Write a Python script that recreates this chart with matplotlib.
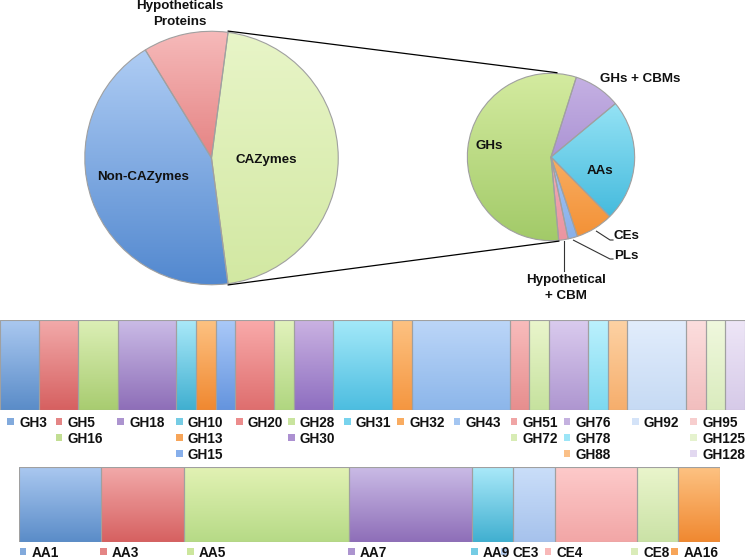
import numpy as np
import matplotlib
matplotlib.use('Agg')
import matplotlib.pyplot as plt
from matplotlib.colors import LinearSegmentedColormap, to_rgb

plt.rcParams['font.family'] = ['Liberation Sans', 'DejaVu Sans']
plt.rcParams['font.weight'] = 'bold'

# ---- data ----
main_labels = ['CAZymes', 'Hypotheticals\nProteins', 'Non-CAZymes']
main_counts = [55, 13, 52]
main_top = ['#e8f5c8', '#f6baba', '#b6d2f7']
main_bot = ['#d2e8a2', '#d44c4c', '#5288cf']

caz_labels = ['GHs + CBMs', 'AAs', 'CEs', 'PLs', 'Hypothetical\n+ CBM', 'GHs']
caz_counts = [5, 13, 4, 1, 1, 31]
caz_top = ['#c6b2e4', '#aaedfb', '#fdca90', '#bcd6f8', '#f9c4cc', '#d4eba0']
caz_bot = ['#9276c4', '#34b2d8', '#f39034', '#88b0ea', '#ea94a0', '#a2ca68']

gh_names = ['GH3', 'GH5', 'GH16', 'GH18', 'GH10', 'GH13', 'GH15', 'GH20', 'GH28', 'GH30',
            'GH31', 'GH32', 'GH43', 'GH51', 'GH72', 'GH76', 'GH78', 'GH88', 'GH92', 'GH95',
            'GH125', 'GH128']
gh_counts = [2, 2, 2, 3, 1, 1, 1, 2, 1, 2, 3, 1, 5, 1, 1, 2, 1, 1, 3, 1, 1, 1]
gh_top = ['#aac8f0', '#f2aaaa', '#dcefb6', '#cabbe6', '#aae9f9', '#fdc282', '#aac9f8', '#f9aaaa',
          '#e2f2bc', '#cab2e2', '#a4e9f9', '#fdc282', '#bcd6f8', '#f9bcbc', '#eaf5cc', '#dacbee',
          '#bcf1fd', '#fdd2a4', '#e2edfc', '#fcdede', '#f0f8de', '#eee6f7']
gh_bot = ['#5a8cc8', '#d66060', '#a8cc70', '#8e6eb8', '#40afd0', '#f08830', '#6494de', '#de6e6e',
          '#b0d680', '#8e6ec0', '#4cbde0', '#f59640', '#8cb6ea', '#e68e8e', '#c6e29e', '#ae96d0',
          '#7cd9f0', '#f6ae6c', '#c6daf4', '#f2bebe', '#daecbe', '#d6cae8']

aa_names = ['AA1', 'AA3', 'AA5', 'AA7', 'AA9', 'CE3', 'CE4', 'CE8', 'AA16']
aa_counts = [2, 2, 4, 3, 1, 1, 2, 1, 1]
aa_top = ['#aac8f0', '#f2aaaa', '#e2f2b4', '#cabbe6', '#aae9f9', '#cadef9', '#fdcaca', '#eaf5cc', '#fdc282']
aa_bot = ['#5a8cc8', '#d66060', '#b6da86', '#8e6eb8', '#40afd0', '#a6c2ec', '#f2a6a6', '#cae2a6', '#f08830']

# ---- layout (pixels) ----
W, H = 747, 560
fig = plt.figure(figsize=(W / 100, H / 100), dpi=100)


def px_axes(x0, y0, x1, y1, z=1):
    return fig.add_axes([x0 / W, 1 - y1 / H, (x1 - x0) / W, (y1 - y0) / H], zorder=z)


def grad(ax, patch, ctop, cbot, extent):
    cmap = LinearSegmentedColormap.from_list('g', [to_rgb(cbot), to_rgb(ctop)])
    g = np.linspace(0, 1, 256).reshape(-1, 1)
    im = ax.imshow(g, cmap=cmap, extent=extent, origin='lower', aspect='auto',
                   zorder=patch.get_zorder() - 0.5, interpolation='bicubic')
    im.set_clip_path(patch)
    patch.set_facecolor('none')


def mix(a, b):
    return tuple((np.array(to_rgb(a)) + np.array(to_rgb(b))) / 2)


edge = '#a0a0a0'
txt = '#111111'

# big pie
bc, br = (211.5, 158), 128
ax1 = px_axes(bc[0] - br, bc[1] - br, bc[0] + br, bc[1] + br)
start1 = -180 * main_counts[0] / sum(main_counts)
w1, _ = ax1.pie(main_counts, radius=1, startangle=start1, frame=True,
                wedgeprops=dict(edgecolor=edge, linewidth=0.8))
for w, ct, cb in zip(w1, main_top, main_bot):
    grad(ax1, w, ct, cb, (-1, 1, -1, 1))
ax1.set_xlim(-1.01, 1.01)
ax1.set_ylim(-1.01, 1.01)
ax1.axis('off')

# small pie
sc, sr = (551, 157), 84.5
ax2 = px_axes(sc[0] - sr, sc[1] - sr, sc[0] + sr, sc[1] + sr)
w2, _ = ax2.pie(caz_counts, radius=1, startangle=72.4, counterclock=False, frame=True,
                wedgeprops=dict(edgecolor=edge, linewidth=0.8))
for w, ct, cb in zip(w2, caz_top, caz_bot):
    grad(ax2, w, ct, cb, (-1, 1, -1, 1))
ax2.set_xlim(-1.01, 1.01)
ax2.set_ylim(-1.01, 1.01)
ax2.axis('off')

# GH bar
ax3 = px_axes(0, 320, 745, 410)
lefts = np.concatenate([[0], np.cumsum(gh_counts)[:-1]])
bars = ax3.barh(0, gh_counts, left=lefts, height=1, edgecolor=edge, linewidth=0.8)
for b, ct, cb in zip(bars, gh_top, gh_bot):
    x, y = b.get_x(), b.get_y()
    grad(ax3, b, ct, cb, (x, x + b.get_width(), y, y + b.get_height()))
ax3.set_xlim(0, sum(gh_counts))
ax3.set_ylim(-0.5, 0.5)
ax3.axis('off')

# AA / CE bar
ax4 = px_axes(19, 467, 719.5, 542)
lefts = np.concatenate([[0], np.cumsum(aa_counts)[:-1]])
bars = ax4.barh(0, aa_counts, left=lefts, height=1, edgecolor=edge, linewidth=0.8)
for b, ct, cb in zip(bars, aa_top, aa_bot):
    x, y = b.get_x(), b.get_y()
    grad(ax4, b, ct, cb, (x, x + b.get_width(), y, y + b.get_height()))
ax4.set_xlim(0, sum(aa_counts))
ax4.set_ylim(-0.5, 0.5)
ax4.axis('off')

# overlay in pixel coordinates
ov = fig.add_axes([0, 0, 1, 1], zorder=10)
ov.set_xlim(0, W)
ov.set_ylim(H, 0)
ov.axis('off')
ov.patch.set_alpha(0)


def on_pie(c, r, ang):
    a = np.radians(ang)
    return c[0] + r * np.cos(a), c[1] - r * np.sin(a)


# connector lines from the CAZymes slice to the second pie
p1 = on_pie(bc, br, w1[0].theta2)
p2 = on_pie(sc, sr, 86)
p3 = on_pie(bc, br, w1[0].theta1)
p4 = on_pie(sc, sr, w2[-1].theta2)
ov.plot([p1[0], p2[0]], [p1[1], p2[1]], color='black', lw=0.9)
ov.plot([p3[0], p4[0]], [p3[1], p4[1]], color='black', lw=0.9)

# pie labels
ov.text(180, 14, main_labels[1], ha='center', va='center', fontsize=9.6, color=txt, linespacing=1.35)
ov.text(266, 160, main_labels[0], ha='center', va='center', fontsize=9.6, color=txt)
ov.text(143, 177, main_labels[2], ha='center', va='center', fontsize=9.6, color=txt)
ov.text(489, 146, caz_labels[5], ha='center', va='center', fontsize=9.6, color=txt)
ov.text(600, 171, caz_labels[1], ha='center', va='center', fontsize=9.6, color=txt)
ov.text(640, 79, caz_labels[0], ha='center', va='center', fontsize=9.6, color=txt)
ov.text(614, 236, caz_labels[2], ha='left', va='center', fontsize=9.6, color=txt)
ov.text(614, 256, caz_labels[3], ha='left', va='center', fontsize=9.6, color=txt)
ov.text(566, 288, caz_labels[4], ha='center', va='center', fontsize=9.6, color=txt, linespacing=1.35)

# leader lines
m = on_pie(sc, sr * 1.03, (w2[2].theta1 + w2[2].theta2) / 2)
ov.plot([m[0], 610, 613], [m[1], 240, 240], color='#333333', lw=0.8)
m = on_pie(sc, sr * 1.02, (w2[3].theta1 + w2[3].theta2) / 2)
ov.plot([m[0], 610, 613], [m[1], 259, 259], color='#333333', lw=0.8)
m = on_pie(sc, sr * 1.01, (w2[4].theta1 + w2[4].theta2) / 2)
ov.plot([m[0], m[0]], [m[1], 271], color='#333333', lw=0.8)

# legends
gh_cols = [19, 67.7, 129, 188, 248, 300, 356, 409, 465.7, 522.7, 575.7, 644, 702.3]
gh_groups = [['GH3'], ['GH5', 'GH16'], ['GH18'], ['GH10', 'GH13', 'GH15'], ['GH20'],
             ['GH28', 'GH30'], ['GH31'], ['GH32'], ['GH43'], ['GH51', 'GH72'],
             ['GH76', 'GH78', 'GH88'], ['GH92'], ['GH95', 'GH125', 'GH128']]
gh_rows = [423, 439, 455]


def legend_item(x, y, name, ct, cb):
    ov.add_patch(plt.Rectangle((x - 12, y - 5), 6.5, 6.5, facecolor=mix(ct, cb),
                               edgecolor='none'))
    ov.text(x, y, name, ha='left', va='center', fontsize=9.8, color=txt)


for x, grp in zip(gh_cols, gh_groups):
    for r, name in enumerate(grp):
        i = gh_names.index(name)
        legend_item(x, gh_rows[r], name, gh_top[i], gh_bot[i])

aa_cols = [31.7, 112, 199, 360, 483, 512.7, 556.7, 643.3, 683.3]
for x, name, ct, cb in zip(aa_cols, aa_names, aa_top, aa_bot):
    legend_item(x, 553, name, ct, cb)

fig.savefig('out.png', dpi=100)
